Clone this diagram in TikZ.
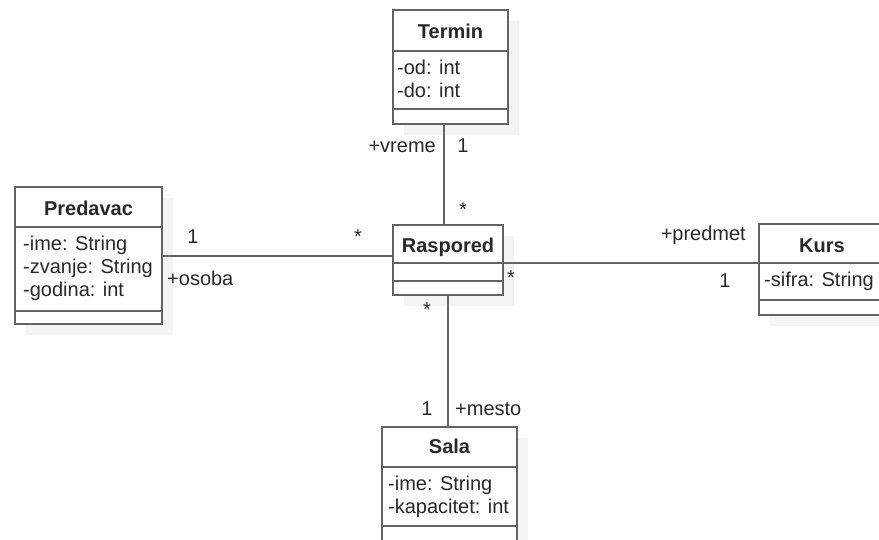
\documentclass[tikz,border=0pt]{standalone}
\usepackage{fontspec}
\setmainfont{Liberation Sans}
\usetikzlibrary{shadows}
\definecolor{linegray}{RGB}{100,100,100}
\definecolor{inkgray}{RGB}{40,40,40}
\definecolor{shadegray}{RGB}{244,244,244}
\begin{document}
\begin{tikzpicture}[x=1pt,y=-1pt,
  cls/.style={draw=linegray, line width=1.9pt, fill=white, inner sep=0pt,
    drop shadow={shadow xshift=11pt, shadow yshift=-11pt, fill=shadegray, opacity=1}},
  divider/.style={draw=linegray, line width=1.9pt},
  assoc/.style={draw=linegray, line width=1.9pt},
  txt/.style={inner sep=0pt, text=inkgray, font=\fontsize{20}{23}\selectfont},
  title/.style={txt, font=\fontsize{20}{23}\selectfont\bfseries, anchor=base},
  attr/.style={txt, anchor=base west},
  lbl/.style={txt, anchor=base},
]
\useasboundingbox (0,0) rectangle (879,539);
\clip (0,0) rectangle (879,539);

% ---- class boxes ----
\node[cls, minimum width=115pt, minimum height=114pt] (termin) at (450.5,67) {};
\node[cls, minimum width=147pt, minimum height=137pt] (predavac) at (88.5,255.5) {};
\node[cls, minimum width=110pt, minimum height=70pt] (raspored) at (448,260) {};
\node[cls, minimum width=126pt, minimum height=91pt] (kurs) at (822,269.5) {};
\node[cls, minimum width=135pt, minimum height=150pt] (sala) at (449.5,502) {};

% ---- compartment dividers ----
\draw[divider] (termin.west |- 0,51) -- (termin.east |- 0,51);
\draw[divider] (termin.west |- 0,109) -- (termin.east |- 0,109);
\draw[divider] (predavac.west |- 0,227) -- (predavac.east |- 0,227);
\draw[divider] (predavac.west |- 0,311) -- (predavac.east |- 0,311);
\draw[divider] (raspored.west |- 0,263) -- (raspored.east |- 0,263);
\draw[divider] (raspored.west |- 0,281) -- (raspored.east |- 0,281);
\draw[divider] (kurs.west |- 0,263) -- (kurs.east |- 0,263);
\draw[divider] (kurs.west |- 0,300) -- (kurs.east |- 0,300);
\draw[divider] (sala.west |- 0,467) -- (sala.east |- 0,467);
\draw[divider] (sala.west |- 0,526) -- (sala.east |- 0,526);

% ---- class names and attributes ----
\node[title] (tTermin) at (450.5,38) {Termin};
\node[attr] (aOd) at (397,74) {-od: int};
\node[attr] (aDo) at (397,97) {-do: int};

\node[title] (tPredavac) at (88.5,215) {Predavac};
\node[attr] (aIme) at (23,250) {-ime: String};
\node[attr] (aZvanje) at (23,273) {-zvanje: String};
\node[attr] (aGodina) at (23,296) {-godina: int};

\node[title] (tRaspored) at (448,252) {Raspored};

\node[title] (tKurs) at (822,252) {Kurs};
\node[attr] (aSifra) at (764,286) {-sifra: String};

\node[title] (tSala) at (449.5,453) {Sala};
\node[attr] (aSalaIme) at (388,490) {-ime: String};
\node[attr] (aKap) at (388,513) {-kapacitet: int};

% ---- associations ----
\draw[assoc] ([xshift=-6.5pt]termin.south) -- ([xshift=-4pt]raspored.north);
\draw[assoc] (predavac.east |- 0,256) -- (raspored.west |- 0,256);
\draw[assoc] (raspored.east |- 0,263) -- (kurs.west |- 0,263);
\draw[assoc] ([xshift=0pt]raspored.south) -- ([xshift=-1.5pt]sala.north);

% ---- role names and multiplicities ----
\node[txt, anchor=base east] (rVreme) at (436,152) {+vreme};
\node[lbl] (mTermin) at (463,152) {1};
\node[lbl] (mRaspTop) at (463,216) {*};

\node[lbl] (mPredavac) at (193,243) {1};
\node[txt, anchor=base west] (rOsoba) at (167,285) {+osoba};
\node[lbl] (mRaspLeft) at (358,243) {*};

\node[txt, anchor=base east] (rPredmet) at (746,240) {+predmet};
\node[lbl] (mKurs) at (725,287) {1};
\node[lbl] (mRaspRight) at (511,284) {*};

\node[lbl] (mRaspBottom) at (427,316) {*};
\node[lbl] (mSala) at (427,415) {1};
\node[txt, anchor=base west] (rMesto) at (455,415) {+mesto};
\end{tikzpicture}
\end{document}
